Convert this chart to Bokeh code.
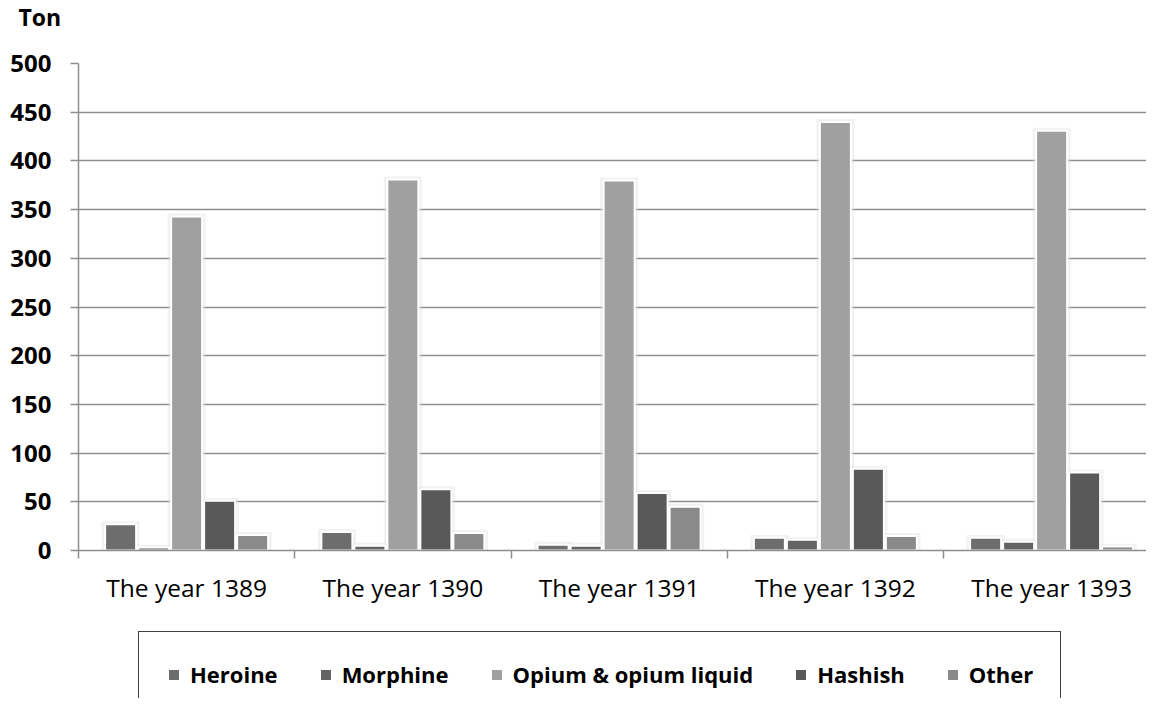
from bokeh.plotting import figure
from bokeh.layouts import column
from bokeh.models import ColumnDataSource, Range1d, FixedTicker, Legend, LegendItem
from bokeh.transform import dodge
from bokeh.embed import file_html
from bokeh.resources import INLINE

# ---- data ----
years = ["The year 1389", "The year 1390", "The year 1391", "The year 1392", "The year 1393"]
series = ["Heroine", "Morphine", "Opium & opium liquid", "Hashish", "Other"]
heroine = [27, 19, 6, 13, 13]
morphine = [3, 5, 5, 11, 9]
opium = [343, 381, 380, 440, 431]
hashish = [51, 63, 59, 84, 80]
other = [16, 18, 45, 15, 4]
colors = ["#6d6d6d", "#646464", "#a0a0a0", "#595959", "#8a8a8a"]
y_ticks = [0, 50, 100, 150, 200, 250, 300, 350, 400, 450, 500]

values = [heroine, morphine, opium, hashish, other]
xc = [i + 0.5 for i in range(len(years))]
src = ColumnDataSource(dict(x=xc, **{f"s{j}": v for j, v in enumerate(values)},
                            **{f"g{j}": [a + 3 for a in v] for j, v in enumerate(values)}))

FONT = "Open Sans"
GRID = "#8e8e8e"
CAT_PX = 216.25
W = 1146
TOP_H = 35

# ---- top strip holding the unit label ----
p0 = figure(width=W, height=TOP_H, output_backend="svg", toolbar_location=None,
            x_range=Range1d(0, 1), y_range=Range1d(0, 1),
            x_axis_type=None, y_axis_type=None,
            min_border_left=0, min_border_right=0, min_border_top=0, min_border_bottom=0)
p0.outline_line_color = None
p0.grid.visible = False
p0.title.text = "Ton"
p0.title.align = "left"
p0.title.vertical_align = "top"
p0.title.offset = -60
p0.title.standoff = 0
p0.title.text_font = FONT
p0.title.text_font_style = "bold"
p0.title.text_font_size = "23px"
p0.title.text_color = "black"

# ---- main chart ----
p = figure(width=W, height=625 - TOP_H, output_backend="svg", toolbar_location=None,
           x_range=Range1d(0, (W - 78) / CAT_PX), y_range=Range1d(0, 500),
           min_border_left=78, min_border_right=0, min_border_top=63 - TOP_H, min_border_bottom=75)
p.outline_line_color = None
p.background_fill_color = "white"

# y axis
p.yaxis.ticker = FixedTicker(ticks=y_ticks)
p.yaxis.axis_line_color = GRID
p.yaxis.axis_line_width = 1.5
p.yaxis.major_tick_line_color = GRID
p.yaxis.major_tick_line_width = 1.5
p.yaxis.major_tick_out = 8
p.yaxis.major_tick_in = 0
p.yaxis.minor_tick_line_color = None
p.yaxis.major_label_text_font = FONT
p.yaxis.major_label_text_font_style = "bold"
p.yaxis.major_label_text_font_size = "24px"
p.yaxis.major_label_text_color = "black"
p.yaxis.major_label_standoff = 19

# x axis
p.xaxis.ticker = FixedTicker(ticks=xc, minor_ticks=list(range(len(years) + 1)))
p.xaxis.major_label_overrides = {x: y for x, y in zip(xc, years)}
p.xaxis.axis_line_color = GRID
p.xaxis.axis_line_width = 1.5
p.xaxis.major_tick_line_color = None
p.xaxis.major_tick_out = 0
p.xaxis.major_tick_in = 0
p.xaxis.minor_tick_line_color = GRID
p.xaxis.minor_tick_line_width = 1.5
p.xaxis.minor_tick_out = 8
p.xaxis.minor_tick_in = 0
p.xaxis.major_label_text_font = FONT
p.xaxis.major_label_text_font_size = "24.5px"
p.xaxis.major_label_text_color = "black"
p.xaxis.major_label_standoff = 12

p.xgrid.grid_line_color = None
p.ygrid.ticker = FixedTicker(ticks=y_ticks)
p.ygrid.grid_line_color = GRID
p.ygrid.grid_line_width = 1.5

step = 33 / CAT_PX
bw = 31 / CAT_PX
for j, name in enumerate(series):
    off = (j - 2) * step
    p.vbar(x=dodge("x", off, range=p.x_range), top=f"g{j}", width=bw + 7 / CAT_PX, bottom=0,
           source=src, fill_color="#dedede", fill_alpha=0.4, line_color=None)
for j, name in enumerate(series):
    off = (j - 2) * step
    p.vbar(x=dodge("x", off, range=p.x_range), top=f"s{j}", width=bw, bottom=0, source=src,
           fill_color=colors[j], line_color="white", line_width=2)

# ---- legend strip (separate small figure under the chart) ----
# its ranges lie away from the data, so its bars only feed the legend swatches
LH = 73
p2 = figure(width=W, height=LH, output_backend="svg", toolbar_location=None,
            x_range=Range1d(100, 101), y_range=Range1d(10000, 10001),
            x_axis_type=None, y_axis_type=None,
            min_border_left=0, min_border_right=0, min_border_top=0, min_border_bottom=0)
p2.outline_line_color = None
p2.grid.visible = False
items = []
for j, name in enumerate(series):
    r = p2.vbar(x="x", top=f"s{j}", width=bw, bottom=0, source=src,
                fill_color=colors[j], line_color="white", line_width=2)
    items.append(LegendItem(label=name, renderers=[r]))

legend = Legend(items=items, orientation="horizontal",
                location=(60, -19), margin=0,
                padding=27, spacing=40, label_standoff=9,
                glyph_width=15, glyph_height=15, label_height=24,
                label_text_font=FONT, label_text_font_style="bold",
                label_text_font_size="22px", label_text_color="black",
                border_line_color="#404040", border_line_width=1.5, border_line_alpha=1.0,
                background_fill_color="white", background_fill_alpha=1)
p2.add_layout(legend, "center")

layout = column(p0, p, p2, spacing=0)
open("out.html", "w").write(file_html(layout, INLINE))
